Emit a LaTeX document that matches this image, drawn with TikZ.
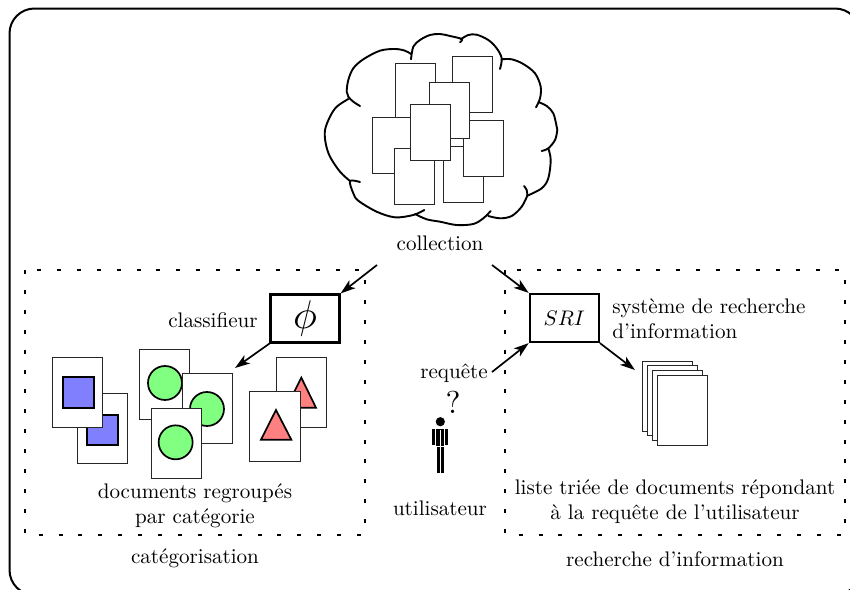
\documentclass[tikz,border=0pt]{standalone}
\usepackage{amssymb}
\usetikzlibrary{arrows.meta}
\tikzset{
  txt/.style={scale=2.11,inner sep=0pt,align=center},
  paper/.style={draw=black!85,line width=1pt,fill=white},
  bigbox/.style={draw,line width=2.2pt,minimum width=69pt,minimum height=48pt,inner sep=0pt,fill=white},
  flow/.style={line width=1.7pt,-{Stealth[length=15pt,width=10pt,inset=4pt]}},
  zone/.style={line width=2.1pt,dash pattern=on 4pt off 15.9pt},
  shape box/.style={draw=black,line width=1.7pt},
  cloudline/.style={line width=1.9pt,smooth,tension=0.55,line cap=round},
  blueshape/.style={shape box,fill={rgb,255:red,128;green,128;blue,255}},
  greenshape/.style={shape box,fill={rgb,255:red,128;green,255;blue,128}},
  redshape/.style={shape box,fill={rgb,255:red,255;green,128;blue,128},line join=miter},
}
\begin{document}
\begin{tikzpicture}[x=1pt,y=-1pt]
\useasboundingbox (0,0) rectangle (850,589);
\clip (0,0) rectangle (850,589);
\draw[line width=2pt,rounded corners=25pt] (9.5,8.5) rectangle (860,595);

% cloud
\draw[cloudline] plot coordinates {(360,106)(353.3,101.7)(348.3,96.7)(346.7,91.7)(348.3,80)(353.3,68.3)(363.3,59.3)(380,50.7)(395,49)(405,50.7)(411,54)};
\draw[cloudline] plot coordinates {(411,59.3)(413.3,46.7)(420,40)(430,35)(440,34)(450,36)(461.7,39)(460,42.3)};
\draw[cloudline] plot coordinates {(460.7,39.3)(468.3,35)(476.7,34.7)(488.3,40)(496.7,48.3)(501.7,58.3)(500,69)};
\draw[cloudline] plot coordinates {(501.7,59.3)(511.7,59.3)(523.3,64)(535,73.3)(540.7,86.7)(540,98.3)(536,107.3)};
\draw[cloudline] plot coordinates {(539,102.3)(546.7,106)(553.3,113.3)(556.7,126.7)(557.3,130)(555,140)(548.3,148.3)(541.7,151)};
\draw[cloudline] plot coordinates {(548.3,148.3)(550.7,160)(548.3,178.3)(541.7,188.3)(527.3,195.7)};
\draw[cloudline] plot coordinates {(527.3,195.7)(526.7,190)(524,186)};
\draw[cloudline] plot coordinates {(527.3,195.7)(521.7,206.7)(511.7,216)(500,218.3)(488.3,216)};
\draw[cloudline] plot coordinates {(490.7,211)(483.3,218.3)(473.3,224)(456.7,225)(440,221.7)(426.7,219.3)(415,214)};
\draw[cloudline] plot coordinates {(424.3,210)(413.3,215)(395,217.3)(376.7,211.7)(358.3,200.7)(353.3,193.3)(350,181)(360,182)};
\draw[cloudline] plot coordinates {(350,181)(340,171.7)(330,156.7)(325.7,143.3)(325,130)(330,116.7)(336.7,106.7)(348.3,99)};
\begin{scope}[shift={(310,20)},x=0.3333pt,y=-0.3333pt]
\foreach \px/\py in {427/111,257/131,187/292,254/385,402/380,461/301,358/187,303/255}
  \draw[paper] (\px,\py) rectangle +(120,168);
\end{scope}

% zones
\draw[zone] (25,270) rectangle (365,535);
\draw[zone] (505,270) rectangle (845,535);

% documents
\begin{scope}[shift={(30,280)},x=0.3333pt,y=-0.3333pt]
\draw[paper] (143,341) rectangle +(151,210);
\draw[blueshape] (172,405) rectangle (264,495);
\draw[paper] (68,234) rectangle +(151,210);
\draw[blueshape] (99,292) rectangle (191,383);
\draw[paper] (328,210) rectangle +(151,210);
\draw[greenshape] (405,309) circle (51);
\draw[paper] (457,281) rectangle +(151,210);
\draw[greenshape] (531,387) circle (51);
\draw[paper] (365,385) rectangle +(151,210);
\draw[greenshape] (437,487) circle (51);
\draw[paper] (740,232) rectangle +(151,210);
\draw[redshape] (814,293) -- (858,383) -- (769,383) -- cycle;
\draw[paper] (660,336) rectangle +(151,210);
\draw[redshape] (738,390) -- (784,479) -- (693,479) -- cycle;
\end{scope}

% result list
\foreach \sx/\sy in {642.3/361,647.3/365.7,652.3/370.3,657/375.3}
  \draw[paper] (\sx,\sy) rectangle +(50.3,70);

% person
\fill (440.3,421.7) circle (4.6);
\fill (432.3,428.5) rectangle (435.3,445);
\fill (445,428.5) rectangle (447.7,445);
\fill (436.3,428.5) rectangle (444.3,446);
\fill (436.7,446.7) rectangle (439.7,472.5);
\fill (441,446.7) rectangle (444,472.5);
\draw[white,line width=0.7pt] (440.3,430) -- (440.3,446);

% nodes
\node[bigbox] (phi) at (305,318.5) {};
\node[txt,scale=1.9] at (305,318.5) {$\phi$};
\node[bigbox] (sri) at (564.3,318) {};
\node[txt] at (564.3,318) {$SRI$};

\node[txt] (collection) at (440,243.5) {collection};
\node[txt] (classifieur) at (213,320) {classifieur};
\node[txt] (requete) at (454,373) {requête};
\node[txt,scale=1.5] (question) at (453,402) {?};
\node[txt] (utilisateur) at (440,508) {utilisateur};
\node[txt,align=left,anchor=west] (systeme) at (612,319) {système de recherche\\d'information};
\node[txt] (liste) at (675,502) {liste triée de documents répondant\\à la requête de l'utilisateur};
\node[txt] (groupes) at (195,505.5) {documents regroupés\\par catégorie};
\node[txt] (categorisation) at (195,558) {catégorisation};
\node[txt] (recherche) at (675,559) {recherche d'information};

% connector ends
\coordinate (cl) at (377,265);
\coordinate (cr) at (492,265);
\coordinate (rq) at (492,372);
\coordinate (dc) at (235,368);
\coordinate (ls) at (635,370);
\draw[flow] (cl) -- (phi.north east);
\draw[flow] (cr) -- (sri.north west);
\draw[flow] (rq) -- (sri.south west);
\draw[flow] (phi.south west) -- (dc);
\draw[flow] (sri.south east) -- (ls);
\end{tikzpicture}
\end{document}
